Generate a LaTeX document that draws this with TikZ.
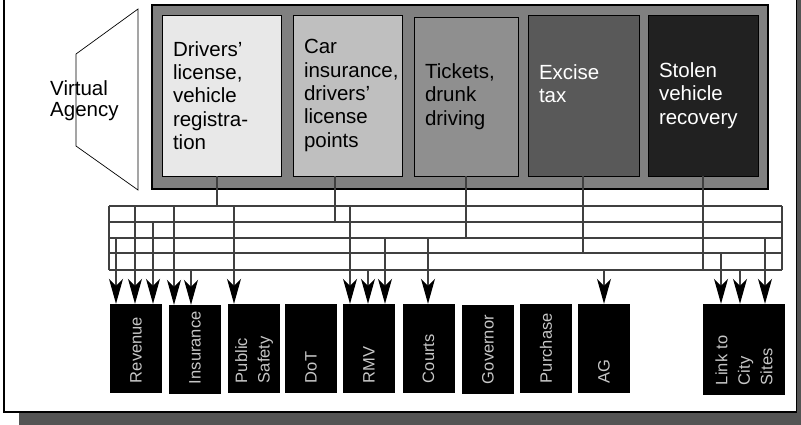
\documentclass[tikz,border=0pt]{standalone}
\usepackage{fontspec}
\setmainfont{Liberation Sans}
\usetikzlibrary{arrows.meta}
\newcommand\unitfont{\fontsize{20.5}{23.3}\selectfont\hyphenpenalty10000\relax}
\newcommand\deptfont{\fontsize{16.5}{22.5}\selectfont\hyphenpenalty10000\relax}
\tikzset{
    unit/.style={draw=black, line width=0.8pt, inner xsep=11pt, inner ysep=0pt, align=left, font=\unitfont},
    dept/.style={fill=black, rotate=90, minimum width=89pt, minimum height=52pt, text width=69pt,
        inner xsep=10pt, inner ysep=0pt, align=left, text=black!22, font=\deptfont},
    bus/.style={draw=black!75, line width=1.3pt},
    feed/.style={bus, -{Stealth[length=25pt, width=14pt, inset=7pt, black]}}
}
\begin{document}
\begin{tikzpicture}[x=1pt, y=-1pt]
        \useasboundingbox (0,0) rectangle (801,424);
        \fill[black!67] (19,-5) rectangle (806,430);
        \draw[fill=white, line width=1.5pt] (4,-5) rectangle (796.5,412);
        \fill[white] (76,54) -- (138,9) -- (138,190) -- (76,146) -- cycle;
        \node[font=\fontsize{20.5}{21.5}\selectfont, align=left, anchor=north west, inner sep=0pt] (va) at (50,80) {Virtual\\Agency};
        \draw[line width=0.7pt] (76,54) -- (138,9) -- (138,190) -- (76,146) -- cycle;
        \draw[fill=black!50, line width=1.3pt] (152,5) rectangle (768,189);
        \node[unit, fill=black!9, minimum height=161pt, text width=97pt] (drv) at (221.5,95.5) {Drivers'\\license,\\vehicle\\registra-\\tion};
        \node[unit, fill=black!25, minimum height=161pt, text width=87pt] (ins) at (347.5,95.5) {Car\\insurance,\\drivers'\\license\\points};
        \node[unit, fill=black!44, minimum height=159pt, text width=82pt] (tkt) at (466,96.5) {Tickets,\\drunk\\driving};
        \node[unit, fill=black!65, minimum height=161pt, text width=89pt, text=white] (exc) at (583.5,95.5) {Excise\\tax\\\mbox{}};
        \node[unit, fill=black!87, minimum height=161pt, text width=88pt, text=white] (stl) at (703,95.5) {Stolen\\vehicle\\recovery};
        \coordinate (b1) at (109,206);
        \coordinate (b2) at (109,222);
        \coordinate (b3) at (109,238);
        \coordinate (b4) at (109,253);
        \coordinate (b5) at (109,270);
        \foreach \i in {1,...,5}
            {
                \draw[bus] (b\i) -- ++(673,0);
            }
        \draw[bus] (b1) -- (b5);
        \draw[bus] ([xshift=673pt]b1) -- ([xshift=673pt]b5);
        \foreach \x/\n/\b in {217/drv/1,335/ins/2,466/tkt/3,583/exc/4,703/stl/5}
            {
                \draw[bus] (\x,0 |- \n.south) -- (\x,0 |- b\b);
            }
        \foreach \n/\x/\t in {rev/136/Revenue,pub/254/{Public\\Safety},dot/311/DoT,rmv/369/RMV,crt/428.5/Courts,pur/546/Purchase,ag/604/AG}
            {
                \node[dept] (\n) at (\x,348.5) {\t};
            }
        \foreach \n/\x/\t in {insu/195/Insurance,gov/488/Governor}
            {
                \node[dept] (\n) at (\x,349.5) {\t};
            }
        \node[dept, minimum width=91pt, minimum height=82pt, text width=71pt] (city) at (744,349.5) {Link to\\City\\Sites};
        \foreach \x/\b/\n in {116/3/rev,135/1/rev,153/2/rev,174/1/insu,191/5/insu,234/1/pub,350/1/rmv,368/5/rmv,385/3/rmv,428/3/crt,604/5/ag,721/4/city,740/5/city,765/3/city}
            {
                \draw[feed] (\x,0 |- b\b) -- (\x,0 |- \n.east);
            }
    \end{tikzpicture}
\end{document}
